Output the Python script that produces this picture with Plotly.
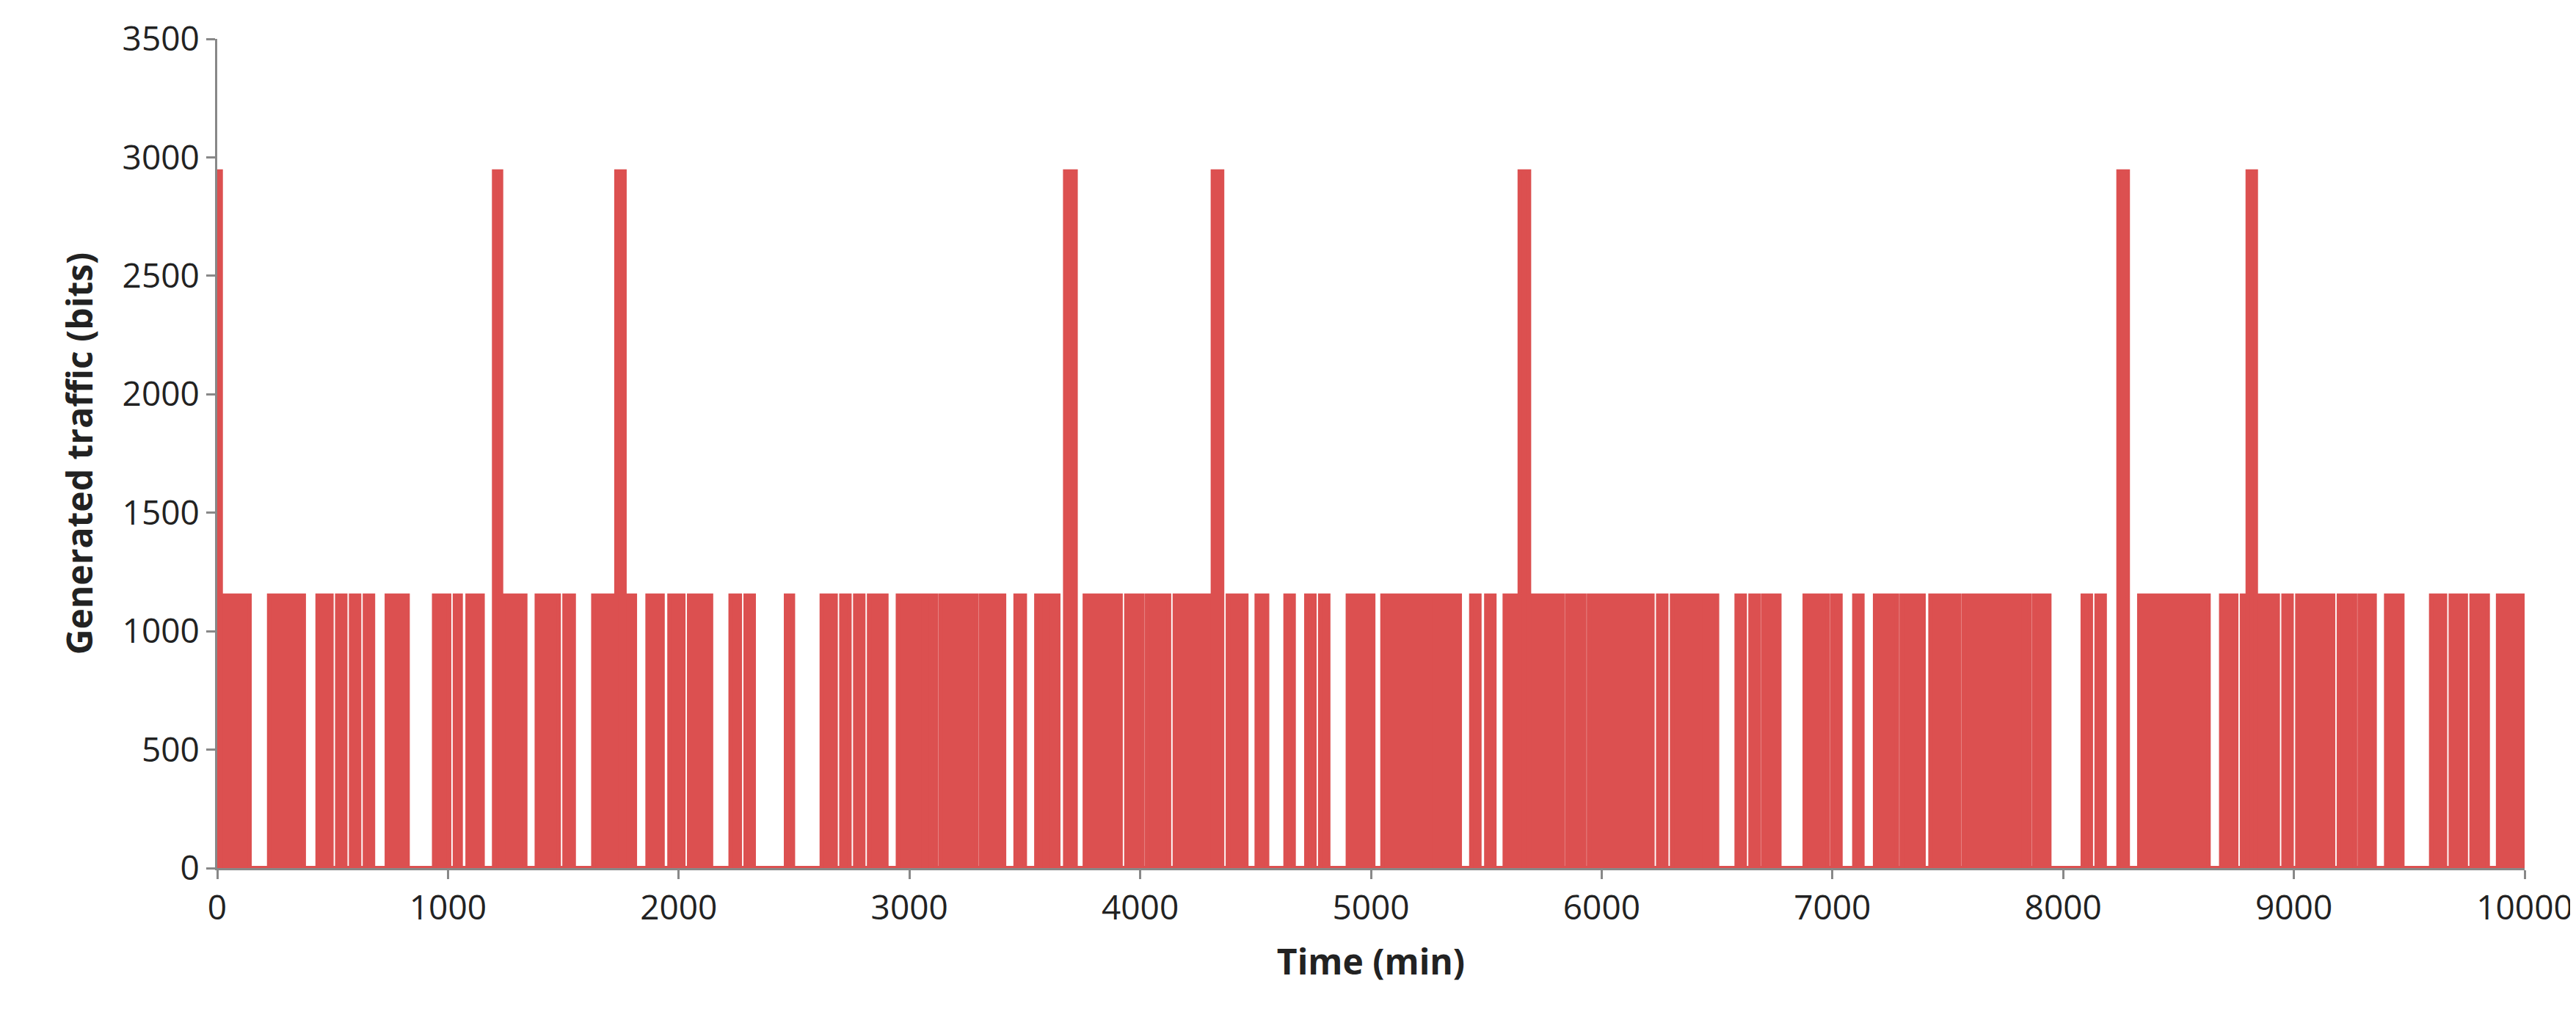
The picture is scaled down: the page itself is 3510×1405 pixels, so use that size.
import plotly.graph_objects as go

# On-periods at the 1150-bit level (start, end) in minutes
on_starts = [0, 225, 435, 520, 580, 640, 735, 940, 1030, 1085, 1240, 1385, 1505, 1630, 1765, 1865, 1960, 2045,
             2225, 2290, 2465, 2620, 2705, 2765, 2825, 2950, 3075, 3135, 3310, 3370, 3460, 3550, 3600, 3760, 3940,
             4030, 4150, 4205, 4380, 4505, 4630, 4720, 4780, 4900, 5050, 5195, 5255, 5340, 5435, 5500, 5580, 5685,
             5850, 5945, 6090, 6160, 6245, 6305, 6425, 6585, 6645, 6700, 6880, 7000, 7095, 7185, 7300, 7425, 7570,
             7810, 7875, 8085, 8145, 8330, 8685, 8775, 8835, 8955, 9015, 9195, 9285, 9400, 9595, 9680, 9770, 9885]
on_ends = [140, 375, 495, 555, 615, 675, 825, 1005, 1055, 1150, 1335, 1480, 1545, 1725, 1810, 1930, 2020, 2140,
           2265, 2325, 2495, 2680, 2740, 2800, 2900, 3060, 3115, 3290, 3355, 3410, 3500, 3585, 3645, 3915, 4010,
           4125, 4190, 4315, 4460, 4550, 4665, 4755, 4815, 5010, 5180, 5245, 5330, 5385, 5470, 5535, 5645, 5830,
           5925, 6075, 6145, 6220, 6280, 6415, 6500, 6620, 6680, 6770, 6980, 7035, 7130, 7280, 7395, 7550, 7795,
           7855, 7940, 8120, 8180, 8630, 8750, 8800, 8930, 8990, 9170, 9265, 9350, 9470, 9655, 9745, 9840, 10000]
low_level = 1150

# Peak periods at the 2940-bit level
peak_starts = [0, 1200, 1730, 3675, 4315, 5645, 8240, 8800]
peak_ends = [15, 1230, 1765, 3720, 4355, 5685, 8280, 8835]
high_level = 2940

events = [(s, e, low_level) for s, e in zip(on_starts, on_ends)] + \
         [(s, e, high_level) for s, e in zip(peak_starts, peak_ends)]
events.sort()
xs, ys = [], []
for s, e, v in events:
    xs += [s, s, e, e]
    ys += [0, v, v, 0]

color = "#DC5050"
fig = go.Figure(go.Scatter(x=xs, y=ys, mode="lines", line=dict(color=color, width=6),
                           fill="tozeroy", fillcolor=color, showlegend=False))

font = "Open Sans"
axis = dict(showgrid=False, zeroline=False, showline=True, linecolor="#888888", linewidth=3,
            ticks="outside", tickcolor="#888888", ticklen=12, tickwidth=3, tickformat="d",
            tickfont=dict(family=font, size=46, color="#222222"))
fig.update_layout(
    width=3510, height=1405, plot_bgcolor="white", paper_bgcolor="white",
    margin=dict(l=288, r=74, t=33, b=230),
    xaxis=dict(range=[0, 10000], dtick=1000, **axis,
               title=dict(text="<b>Time (min)</b>", font=dict(family=font, size=48, color="#222222"), standoff=30)),
    yaxis=dict(range=[0, 3500], dtick=500, **axis,
               title=dict(text="<b>Generated traffic (bits)</b>", font=dict(family=font, size=48, color="#222222"), standoff=25)),
)
fig.write_html("out.html")
